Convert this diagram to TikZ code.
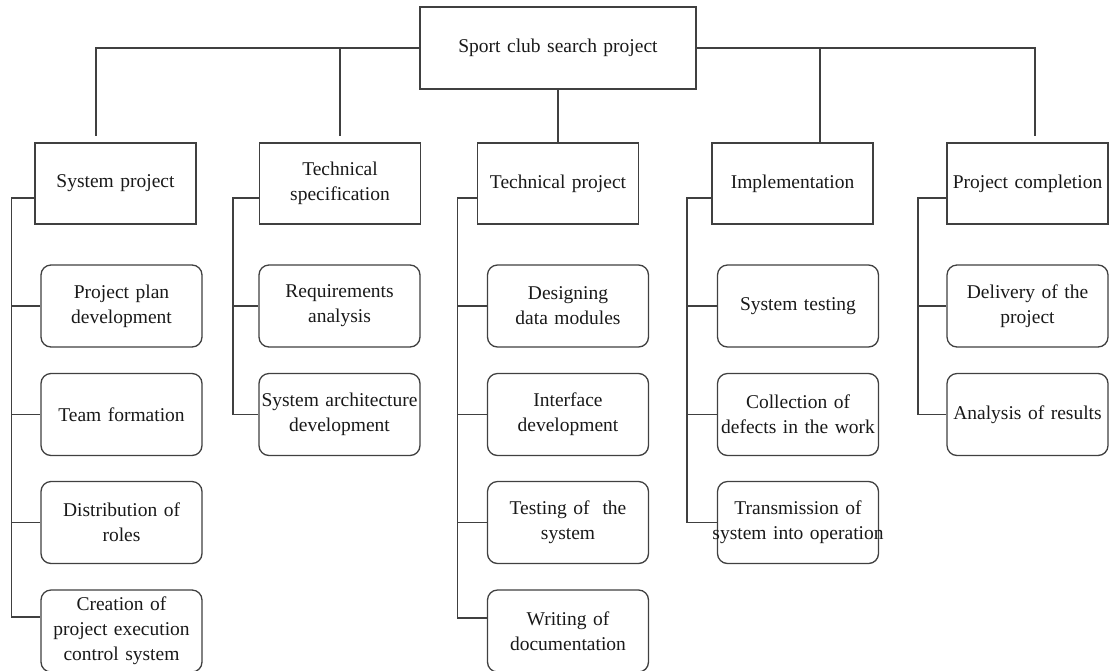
\documentclass[tikz,border=0pt]{standalone}
\usepackage{fontspec}
\setmainfont{Liberation Serif}
\definecolor{linec}{rgb}{0.25,0.25,0.25}
\definecolor{txtc}{rgb}{0.1,0.1,0.1}
\begin{document}
\begin{tikzpicture}[x=1pt,y=-1pt]
\tikzset{
  base/.style={draw=linec, line width=1.3pt, font=\fontsize{19.5}{25}\selectfont, text=txtc,
    align=center, inner sep=3pt, text width=155pt, minimum height=82pt},
  head/.style={base, minimum height=81pt},
  leaf/.style={base, rounded corners=10pt},
  topbox/.style={base, text width=270pt},
  conn/.style={draw=linec, line width=1.3pt},
}
\useasboundingbox (0,0) rectangle (1110,670);
\fill[white] (0,0) rectangle (1110,670);

% top
\node[topbox] (top) at (558,48) {Sport club search project};

% headings
\node[head] (sp) at (115.5,183.5) {System project};
\node[head] (ts) at (340,183.5) {Technical\\specification};
\node[head] (tp) at (558,183.5) {Technical project};
\node[head] (im) at (792.5,183.5) {Implementation};
\node[head] (pc) at (1027.5,183.5) {Project completion};

% column 1
\node[leaf] (sp1) at (121.5,306) {Project plan\\development};
\node[leaf] (sp2) at (121.5,414.5) {Team formation};
\node[leaf] (sp3) at (121.5,522.5) {Distribution of\\roles};
\node[leaf] (sp4) at (121.5,631) {Creation of\\project execution\\control system};

% column 2
\node[leaf] (ts1) at (339.5,306) {Requirements\\analysis};
\node[leaf] (ts2) at (339.5,414.5) {\makebox[155pt]{System architecture}\\development};

% column 3
\node[leaf] (tp1) at (568,306) {Designing\\data modules};
\node[leaf] (tp2) at (568,414.5) {Interface\\development};
\node[leaf] (tp3) at (568,522.5) {Testing of\ \ the\\system};
\node[leaf] (tp4) at (568,631) {Writing of\\documentation};

% column 4
\node[leaf] (im1) at (798,306) {System testing};
\node[leaf] (im2) at (798,414.5) {Collection of\\\makebox[155pt]{defects in the work}};
\node[leaf] (im3) at (798,522.5) {Transmission of\\\makebox[155pt]{system into operation}};

% column 5
\node[leaf] (pc1) at (1027.5,306) {Delivery of the\\project};
\node[leaf] (pc2) at (1027.5,414.5) {\makebox[155pt]{Analysis of results}};

% top-level connectors
\coordinate (spd) at ([xshift=-19.5pt]sp.north);
\coordinate (imd) at ([xshift=27.5pt]im.north);
\coordinate (pcd) at ([xshift=7.5pt]pc.north);
\draw[conn, shorten >=6pt] (top.west) -| (spd);
\draw[conn, shorten >=6pt] (ts.north |- top.west) -- (ts.north);
\draw[conn] (top.south) -- (tp.north);
\draw[conn] (imd |- top.east) -- (imd);
\draw[conn, shorten >=6pt] (top.east) -| (pcd);

% column 1 spine
\coordinate (sps) at (11.5,198);
\coordinate (sp4b) at ([yshift=14pt]sp4.west);
\draw[conn] (sp.west |- sps) -- (sps) -- (sps |- sp4b) -- (sp4b);
\draw[conn] (sps |- sp1.west) -- (sp1.west);
\draw[conn] (sps |- sp2.west) -- (sp2.west);
\draw[conn] (sps |- sp3.west) -- (sp3.west);

% column 2 spine
\coordinate (tss) at (233,198);
\draw[conn] (ts.west |- tss) -- (tss) -- (tss |- ts2.west) -- (ts2.west);
\draw[conn] (tss |- ts1.west) -- (ts1.west);

% column 3 spine
\coordinate (tps) at (457.5,198);
\coordinate (tp4b) at ([yshift=13pt]tp4.west);
\draw[conn] (tp.west |- tps) -- (tps) -- (tps |- tp4b) -- (tp4b);
\draw[conn] (tps |- tp1.west) -- (tp1.west);
\draw[conn] (tps |- tp2.west) -- (tp2.west);
\draw[conn] (tps |- tp3.west) -- (tp3.west);

% column 4 spine
\coordinate (ims) at (687,198);
\draw[conn] (im.west |- ims) -- (ims) -- (ims |- im3.west) -- (im3.west);
\draw[conn] (ims |- im1.west) -- (im1.west);
\draw[conn] (ims |- im2.west) -- (im2.west);

% column 5 spine
\coordinate (pcs) at (918,198);
\draw[conn] (pc.west |- pcs) -- (pcs) -- (pcs |- pc2.west) -- (pc2.west);
\draw[conn] (pcs |- pc1.west) -- (pc1.west);
\end{tikzpicture}
\end{document}
